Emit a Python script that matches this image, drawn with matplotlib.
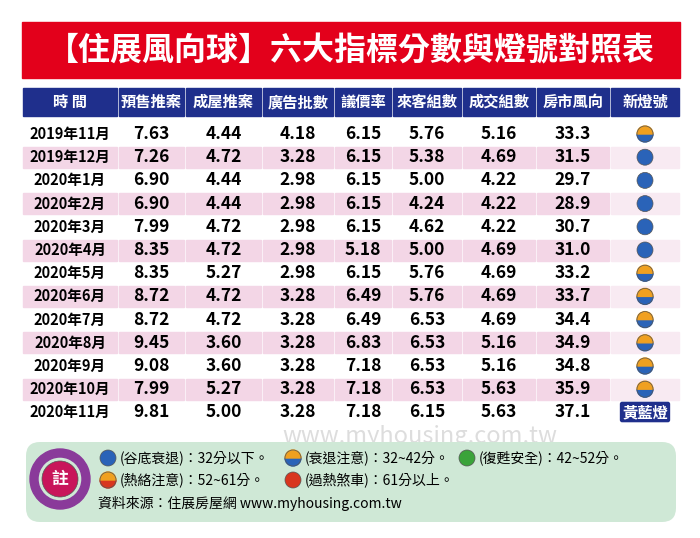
import matplotlib
matplotlib.use('Agg')
import matplotlib.pyplot as plt
from matplotlib.patches import Rectangle, FancyBboxPatch, Circle, Wedge

plt.rcParams['font.family'] = ['Noto Sans CJK TC', 'DejaVu Sans']

headers = ['時 間', '預售推案', '成屋推案', '廣告批數', '議價率', '來客組數', '成交組數', '房市風向', '新燈號']
months = ['2019年11月', '2019年12月', '2020年1月', '2020年2月', '2020年3月', '2020年4月',
          '2020年5月', '2020年6月', '2020年7月', '2020年8月', '2020年9月', '2020年10月', '2020年11月']
presale = [7.63, 7.26, 6.90, 6.90, 7.99, 8.35, 8.35, 8.72, 8.72, 9.45, 9.08, 7.99, 9.81]
built = [4.44, 4.72, 4.44, 4.44, 4.72, 4.72, 5.27, 4.72, 4.72, 3.60, 3.60, 5.27, 5.00]
ads = [4.18, 3.28, 2.98, 2.98, 2.98, 2.98, 2.98, 3.28, 3.28, 3.28, 3.28, 3.28, 3.28]
bargain = [6.15, 6.15, 6.15, 6.15, 6.15, 5.18, 6.15, 6.49, 6.49, 6.83, 7.18, 7.18, 7.18]
visitors = [5.76, 5.38, 5.00, 4.24, 4.62, 5.00, 5.76, 5.76, 6.53, 6.53, 6.53, 6.53, 6.15]
deals = [5.16, 4.69, 4.22, 4.22, 4.22, 4.69, 4.69, 4.69, 4.69, 5.16, 5.16, 5.63, 5.63]
score = [33.3, 31.5, 29.7, 28.9, 30.7, 31.0, 33.2, 33.7, 34.4, 34.9, 34.8, 35.9, 37.1]

W, H = 700, 538
fig = plt.figure(figsize=(W / 100, H / 100), dpi=100)
ax = fig.add_axes([0, 0, 1, 1])
ax.set_xlim(0, W)
ax.set_ylim(H, 0)
ax.axis('off')

BLUE = '#1f2f8c'
PINK = '#f3d6e6'

def light(x, y, r, top, bottom):
    ax.add_patch(Wedge((x, y), r, 0, 180, color=bottom, zorder=5))
    ax.add_patch(Wedge((x, y), r, 180, 360, color=top, zorder=5))
    ax.add_patch(Circle((x, y), r, fill=False, ec='#555555', lw=0.5, zorder=6))

def solid(x, y, r, c):
    ax.add_patch(Circle((x, y), r, color=c, ec='#555555', lw=0.5, zorder=5))

# banner
ax.add_patch(Rectangle((22, 22), 658, 56, color='#e3001b'))
ax.text(351, 51, '【住展風向球】六大指標分數與燈號對照表', color='white', fontsize=23,
        fontweight='bold', ha='center', va='center')

edges = [22, 118, 185, 262, 334, 392, 462, 536, 610, 680]
centers = [(a + b) / 2 for a, b in zip(edges[:-1], edges[1:])]
for i, h in enumerate(headers):
    ax.add_patch(Rectangle((edges[i] + 1, 88), edges[i + 1] - edges[i] - 2, 28, color=BLUE))
    ax.text(centers[i], 102, h, color='white', fontsize=11, fontweight='bold', ha='center', va='center')

y0, dy = 134, 23.2
cols = [presale, built, ads, bargain, visitors, deals]
for r, m in enumerate(months):
    y = y0 + r * dy
    if r % 2 == 1:
        for i in range(9):
            ax.add_patch(Rectangle((edges[i] + 1, y - 10.5), edges[i + 1] - edges[i] - 2, 21,
                                   color=PINK if i < 8 else '#f8eaf2', zorder=1))
    ax.text(centers[0], y, m, fontsize=10.5, fontweight='bold', ha='center', va='center', zorder=3)
    for c, vals in enumerate(cols):
        ax.text(centers[c + 1], y, f'{vals[r]:.2f}', fontsize=12.5, fontweight='bold',
                ha='center', va='center', zorder=3)
    ax.text(centers[7], y, f'{score[r]:.1f}', fontsize=12.5, fontweight='bold',
            ha='center', va='center', zorder=3)
    if score[r] < 32:
        solid(centers[8], y, 8, '#2a63b8')
    else:
        light(centers[8], y, 8, '#f0a020', '#2a63b8')
# last row big light label
ax.text(centers[8], 412, '黃藍燈', fontsize=11, fontweight='bold', color='white', ha='center',
        va='center', zorder=7,
        bbox=dict(boxstyle='round,pad=0.15', fc='#1f2f8c', ec='none'))

# watermark
ax.text(420, 437, 'www.myhousing.com.tw', fontsize=17, color='#dddddd', ha='center',
        va='center', zorder=0)

# legend box
ax.add_patch(FancyBboxPatch((26, 442), 650, 80, boxstyle='round,pad=0,rounding_size=14',
                            fc='#cfe8d6', ec='none', zorder=2))
ax.add_patch(Wedge((60, 479), 30, 0, 360, width=8, color='#8a3a9a', zorder=3))
solid(60, 479, 18, '#c8155a')
ax.text(60, 479, '註', color='white', fontsize=12, fontweight='bold', ha='center', va='center', zorder=7)

fs = 10
solid(108, 458, 8, '#2a63b8')
ax.text(120, 458, '(谷底衰退)：32分以下。', fontsize=fs, va='center', zorder=7)
light(293, 458, 8, '#f0a020', '#2a63b8')
ax.text(305, 458, '(衰退注意)：32~42分。', fontsize=fs, va='center', zorder=7)
solid(467, 458, 8, '#3aa33a')
ax.text(479, 458, '(復甦安全)：42~52分。', fontsize=fs, va='center', zorder=7)
light(108, 480, 8, '#f0a020', '#d8361f')
ax.text(120, 480, '(熱絡注意)：52~61分。', fontsize=fs, va='center', zorder=7)
solid(293, 480, 8, '#d8361f')
ax.text(305, 480, '(過熱煞車)：61分以上。', fontsize=fs, va='center', zorder=7)
ax.text(98, 503, '資料來源：住展房屋網 www.myhousing.com.tw', fontsize=fs, va='center', zorder=7)

fig.savefig('out.png', dpi=100, facecolor='white')
